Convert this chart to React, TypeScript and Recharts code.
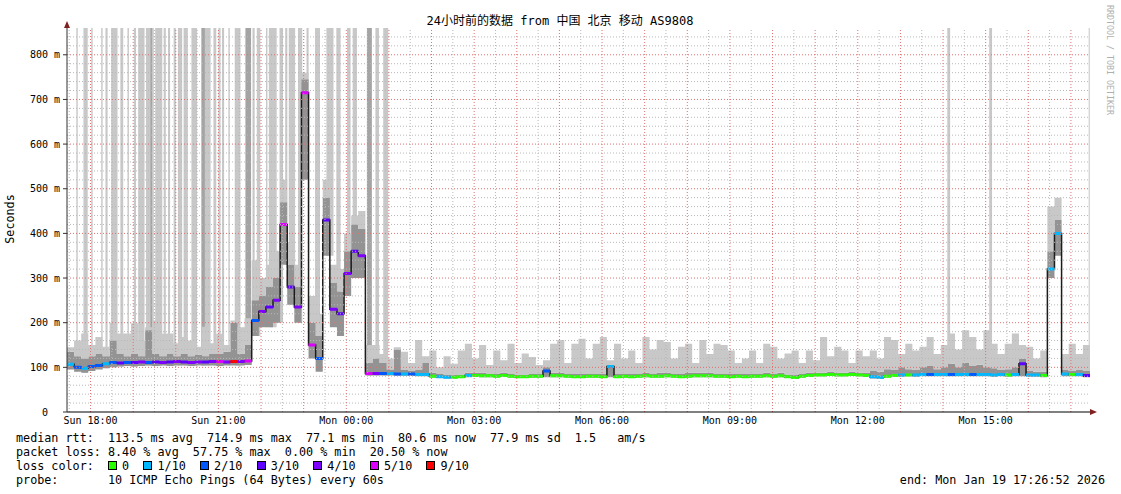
import React from "react";
import { ComposedChart, Area, Line, XAxis, YAxis, ReferenceLine, ReferenceDot } from "recharts";

// time axis in hours since Sun 00:00, 24h window ending Mon 17:26:52
const START = 17 + 26 / 60 + 52 / 3600;
const END = START + 24;
const TOP = 860;
const STEP_H = 1 / 6; // one sample every 10 minutes

const xTicks = [18, 21, 24, 27, 30, 33, 36, 39];
const xTickLabels = ["Sun 18:00", "Sun 21:00", "Mon 00:00", "Mon 03:00", "Mon 06:00", "Mon 09:00", "Mon 12:00", "Mon 15:00"];
const yTicks = [0, 100, 200, 300, 400, 500, 600, 700, 800];

const lossLabels = ["0", "1/10", "2/10", "3/10", "4/10", "5/10", "9/10"];
const lossColors = ["#26ff00", "#00b8ff", "#0059ff", "#5e00ff", "#7e00ff", "#dd00ff", "#ff0000"];

// median rtt per 10 min sample (ms)
const median = [
  107, 100, 98, 102, 104, 108, 111, 110, 111, 111, 112, 111, 112, 111, 112, 113, 112, 111, 112, 112, 113, 113, 112, 113, 113, 114,
  205, 225, 235, 250, 420, 280, 235, 715, 150, 120, 430, 230, 220, 310, 360, 350, 86,
  86, 86, 86, 85, 85, 85, 84, 84,
  80, 79, 78, 78, 79, 82, 82, 81, 81, 80,
  82, 80, 79, 79, 80, 80, 92, 81, 81, 80,
  79, 79, 80, 80, 79, 102, 79, 80, 79, 80,
  81, 80, 80, 81, 80, 79, 80, 81, 81, 81,
  80, 80, 79, 80, 79, 80, 80, 81, 80, 81,
  79, 77, 80, 82, 83, 83, 84, 83, 83, 84,
  83, 82, 79, 78, 80, 82, 83, 83, 83, 84,
  84, 84, 84, 84, 84, 84, 84, 84, 84, 83,
  84, 83, 84, 108, 83, 83, 82,
  320, 400, 85, 84, 84, 82,
];

// index into lossLabels for each sample
const loss = [
  1, 2, 1, 2, 2, 1, 2, 3, 2, 3, 4, 2, 3, 4, 3, 4, 3, 4, 4, 3, 4, 5, 4, 6, 4, 5,
  2, 4, 3, 4, 5, 3, 4, 5, 5, 2, 3, 4, 3, 4, 3, 4, 5,
  4, 2, 1, 2, 1, 2, 1, 1,
  0, 1, 1, 0, 0, 1, 0, 0, 0, 0,
  0, 0, 0, 0, 0, 0, 2, 0, 0, 0,
  0, 0, 0, 0, 0, 1, 0, 0, 0, 0,
  0, 0, 0, 0, 0, 0, 0, 0, 0, 0,
  0, 0, 0, 0, 0, 0, 0, 0, 0, 0,
  0, 0, 0, 0, 0, 0, 0, 0, 0, 0,
  0, 0, 1, 1, 0, 0, 1, 0, 1, 1,
  2, 1, 1, 2, 1, 1, 2, 1, 1, 1,
  1, 0, 1, 3, 1, 1, 0,
  1, 1, 1, 0, 1, 3,
];

// smoke: lowest ping, top of the dense band, highest ping
const low = [
  95, 90, 88, 92, 95, 98, 100, 102, 103, 102, 103, 104, 103, 104, 103, 104, 104, 103, 104, 104, 104, 103, 104, 104, 104, 105,
  170, 190, 190, 200, 330, 240, 200, 520, 120, 90, 350, 190, 170, 260, 300, 300, 82,
  82, 82, 82, 81, 81, 81, 80, 80,
  77, 76, 75, 75, 76, 78, 79, 78, 78, 77,
  79, 77, 76, 76, 77, 77, 78, 78, 78, 77,
  76, 76, 77, 77, 76, 78, 76, 77, 76, 77,
  78, 77, 77, 78, 77, 76, 77, 78, 78, 78,
  77, 77, 76, 77, 76, 77, 77, 78, 77, 78,
  76, 74, 77, 79, 80, 80, 81, 80, 80, 81,
  80, 79, 75, 74, 77, 79, 79, 80, 79, 80,
  80, 80, 80, 80, 80, 80, 80, 80, 80, 79,
  80, 79, 80, 80, 79, 79, 78,
  300, 350, 80, 80, 80, 78,
];

const dense = [
  135, 125, 120, 125, 130, 125, 160, 130, 125, 130, 125, 183, 130, 125, 130, 125, 130, 125, 128, 125, 130, 130, 135, 200, 130, 150,
  250, 260, 280, 300, 470, 330, 280, 745, 200, 170, 480, 290, 270, 360, 420, 410, 110,
  120, 110, 95, 140, 95, 92, 95, 110,
  88, 86, 84, 84, 84, 88, 88, 88, 86, 86,
  88, 86, 84, 84, 86, 86, 100, 88, 88, 86,
  86, 86, 86, 86, 86, 105, 86, 86, 86, 86,
  88, 86, 88, 88, 86, 86, 88, 88, 88, 88,
  86, 86, 86, 86, 86, 86, 86, 88, 86, 88,
  84, 84, 86, 88, 88, 88, 90, 88, 88, 90,
  88, 88, 92, 90, 96, 94, 100, 96, 94, 100,
  104, 96, 100, 108, 100, 110, 104, 106, 100, 98,
  94, 96, 100, 120, 92, 90, 90,
  360, 430, 95, 92, 95, 92,
];

const high = [
  145, 160, 176, 150, 168, 146, 200, 176, 176, 199, 160, 190, 205, 175, 176, 154, 168, 160, 146, 191, 154, 175, 150, 205, 190, 210,
  340, 300, 330, 360, 520, 380, 330, 760, 260, 220, 520, 330, 320, 400, 440, 450, 150,
  150, 130, 120, 145, 135, 110, 161, 125,
  138, 100, 125, 108, 138, 153, 120, 150, 105, 138,
  116, 153, 110, 131, 123, 105, 116, 153, 161, 110,
  153, 164, 120, 153, 168, 116, 153, 120, 138, 110,
  168, 140, 161, 157, 120, 146, 153, 110, 161, 130,
  153, 150, 138, 110, 120, 138, 110, 153, 146, 120,
  131, 138, 110, 138, 116, 168, 125, 146, 138, 110,
  138, 125, 138, 120, 168, 161, 130, 153, 138, 146,
  168, 130, 150, 176, 140, 183, 168, 140, 183, 153,
  130, 153, 176, 150, 146, 120, 138,
  460, 480, 130, 153, 130, 150,
];

// periods where pings were lost: start clock, minutes, shade (1 light, 2 dark)
const lossBars: [string, number, number][] = [
  ["17:40", 2, 1], ["17:50", 6, 1], ["18:01", 2, 1], ["18:15", 2, 1], ["18:21", 3, 1], ["18:29", 9, 1],
  ["18:42", 4, 1], ["18:52", 2, 1], ["19:01", 3, 1], ["19:07", 9, 1], ["19:18", 6, 1], ["19:24", 3, 2],
  ["19:27", 2, 1], ["19:31", 10, 1], ["19:43", 3, 1], ["19:49", 3, 1], ["19:57", 3, 1], ["20:03", 6, 1],
  ["20:11", 6, 1], ["20:22", 8, 1], ["20:36", 5, 2], ["20:41", 8, 1], ["20:53", 4, 1], ["21:00", 3, 1],
  ["21:05", 3, 1], ["21:14", 2, 1], ["21:23", 8, 1], ["21:38", 8, 2], ["21:48", 3, 1], ["21:54", 5, 1],
  ["22:07", 2, 1], ["22:11", 11, 1], ["22:26", 5, 1], ["22:34", 3, 1], ["22:39", 9, 1], ["22:52", 6, 1],
  ["23:04", 3, 1], ["23:16", 7, 1], ["23:32", 10, 1], ["23:46", 6, 1], ["00:01", 5, 1], ["00:09", 6, 1],
  ["00:29", 7, 2], ["00:41", 5, 1], ["00:52", 7, 1], ["14:06", 4, 1], ["15:05", 4, 1], ["17:25", 1.5, 1],
];

const FONT = "'DejaVu Sans Mono', 'Noto Sans CJK SC', monospace";

// each sample becomes start/end rows (steps); a trailing row without the
// loss key ends the coloured piece so jumps are drawn by the black line only
const rows: any[] = [];
median.forEach((m, i) => {
  const smoke = { median: m, base: low[i], dense: dense[i] - low[i], light: high[i] - dense[i] };
  const t0 = START + i * STEP_H;
  const t1 = START + (i + 1) * STEP_H;
  rows.push({ t: t0, ...smoke, ["m" + loss[i]]: m });
  rows.push({ t: t1, ...smoke, ["m" + loss[i]]: m });
  rows.push({ t: t1, ...smoke });
});

const toHour = (s: string) => {
  const [h, mi] = s.split(":").map(Number);
  const v = h + mi / 60;
  return v < START ? v + 24 : v;
};

const barRows = (shade: number) =>
  lossBars
    .filter((b) => b[2] === shade)
    .flatMap(([clock, mins]) => {
      const t0 = toHour(clock);
      const t1 = Math.min(t0 + mins / 60, END);
      const b = low[Math.floor((t0 - START) / STEP_H)];
      return [
        { t: t0, band: [b, TOP] },
        { t: t1, band: [b, TOP] },
        { t: t1, band: null },
      ];
    });

const hMinor: number[] = [];
const hMajor: number[] = [];
for (let v = 20; v < TOP; v += 20) (v % 100 === 0 ? hMajor : hMinor).push(v);
const vMinor: number[] = [];
const vMajor: number[] = [];
for (let h = Math.ceil(START * 2) / 2; h < END; h += 0.5) (h % 1 === 0 ? vMajor : vMinor).push(h);

const tickStyle = { fill: "#000", fontSize: 10, fontFamily: FONT };

const UpArrow = (p: any) => (
  <path d={`M${p.cx - 3},${p.cy} L${p.cx},${p.cy - 7} L${p.cx + 3},${p.cy} Z`} fill="#802020" />
);
const RightArrow = (p: any) => (
  <path d={`M${p.cx},${p.cy - 3} L${p.cx + 7},${p.cy} L${p.cx},${p.cy + 3} Z`} fill="#802020" />
);

export default function App() {
  const legendLine = { margin: 0, whiteSpace: "pre" as const };
  return (
    <div style={{ position: "relative", width: 1121, height: 494, background: "#fff", overflow: "hidden" }}>
      <style>{"body{margin:0}"}</style>
      <ComposedChart width={1121} height={494} data={rows} margin={{ top: 28, right: 31, bottom: 62, left: 7 }}>
        <XAxis
          dataKey="t"
          type="number"
          domain={[START, END]}
          allowDataOverflow
          ticks={xTicks}
          tickFormatter={(v) => xTickLabels[xTicks.indexOf(v)] ?? ""}
          tick={tickStyle}
          tickLine={false}
          tickSize={3}
          tickMargin={2}
          height={20}
          stroke="#000"
        />
        <YAxis
          type="number"
          domain={[0, TOP]}
          allowDataOverflow
          ticks={yTicks}
          tickFormatter={(v) => (v === 0 ? "0\u00a0\u00a0" : `${v} m`)}
          tick={tickStyle}
          tickSize={4}
          tickMargin={3}
          width={60}
          stroke="#333"
        />
        <Area data={barRows(1)} dataKey="band" type="linear" stroke="none" fill="#c8c8c8" fillOpacity={1} connectNulls={false} isAnimationActive={false} />
        <Area data={barRows(2)} dataKey="band" type="linear" stroke="none" fill="#a4a4a4" fillOpacity={1} connectNulls={false} isAnimationActive={false} />
        <Area dataKey="base" stackId="s" type="linear" stroke="none" fill="none" isAnimationActive={false} />
        <Area dataKey="dense" stackId="s" type="linear" stroke="none" fill="#939393" fillOpacity={1} isAnimationActive={false} />
        <Area dataKey="light" stackId="s" type="linear" stroke="none" fill="#c8c8c8" fillOpacity={1} isAnimationActive={false} />
        <Line dataKey="median" type="linear" stroke="#1c1c1c" strokeWidth={1.5} dot={false} activeDot={false} isAnimationActive={false} />
        {lossColors.map((c, k) => (
          <Line key={k} dataKey={"m" + k} type="linear" stroke={c} strokeWidth={3} dot={false} activeDot={false} connectNulls={false} isAnimationActive={false} />
        ))}
        {hMinor.map((v) => (
          <ReferenceLine key={"hm" + v} y={v} stroke="#b8b8b8" strokeDasharray="1 2" />
        ))}
        {vMinor.map((v) => (
          <ReferenceLine key={"vm" + v} x={v} stroke="#b8b8b8" strokeDasharray="1 2" />
        ))}
        {hMajor.map((v) => (
          <ReferenceLine key={"hM" + v} y={v} stroke="#e07070" strokeDasharray="1 2" />
        ))}
        {vMajor.map((v) => (
          <ReferenceLine key={"vM" + v} x={v} stroke="#e07070" strokeDasharray="1 2" />
        ))}
        <ReferenceDot x={START} y={TOP} r={0} shape={UpArrow} />
        <ReferenceDot x={END} y={0} r={0} shape={RightArrow} />
      </ComposedChart>

      <svg width={1121} height={494} style={{ position: "absolute", left: 0, top: 0, pointerEvents: "none" }}>
        <text x={560} y={25} textAnchor="middle" fontSize={12} fontFamily={FONT} fill="#000">
          24小时前的数据 from 中国 北京 移动 AS9808
        </text>
        <text transform="translate(14,219) rotate(-90)" textAnchor="middle" fontSize={11.75} fontFamily={FONT} fill="#000">
          Seconds
        </text>
        <text transform="translate(1107,5) rotate(90)" fontSize={8.3} fontFamily={FONT} fill="#b0b0b0">
          RRDTOOL / TOBI OETIKER
        </text>
      </svg>

      <div style={{ position: "absolute", left: 16, top: 431, fontFamily: FONT, fontSize: 11.75, lineHeight: "14px", color: "#000" }}>
        <p style={legendLine}>median rtt:  113.5 ms avg  714.9 ms max  77.1 ms min  80.6 ms now  77.9 ms sd  1.5   am/s</p>
        <p style={legendLine}>packet loss: 8.40 % avg  57.75 % max  0.00 % min  20.50 % now</p>
        <p style={legendLine}>
          {"loss color:  "}
          {lossLabels.map((l, k) => (
            <span key={k}>
              <span
                style={{
                  display: "inline-block",
                  width: 9,
                  height: 9,
                  boxSizing: "border-box",
                  border: "1px solid #000",
                  background: lossColors[k],
                  marginRight: "calc(1ch - 9px)",
                }}
              />
              {" " + l + "  "}
            </span>
          ))}
        </p>
        <p style={legendLine}>probe:       10 ICMP Echo Pings (64 Bytes) every 60s</p>
      </div>
      <div style={{ position: "absolute", right: 16, top: 473, fontFamily: FONT, fontSize: 11.75, lineHeight: "14px", whiteSpace: "pre" }}>
        end: Mon Jan 19 17:26:52 2026
      </div>
    </div>
  );
}
